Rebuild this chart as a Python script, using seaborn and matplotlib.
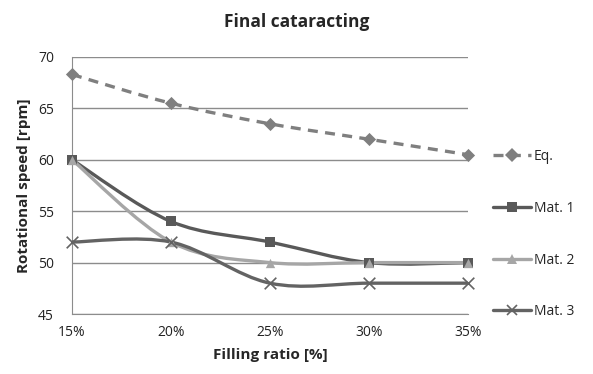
import matplotlib
matplotlib.use("Agg")
import matplotlib.pyplot as plt
import seaborn as sns
import pandas as pd
import numpy as np
from matplotlib.path import Path
from matplotlib.patches import PathPatch
from matplotlib.lines import Line2D

fill_ratio = ["15%", "20%", "25%", "30%", "35%"]
eq = [68.3, 65.5, 63.5, 62.0, 60.5]
mat1 = [60, 54, 52, 50, 50]
mat2 = [60, 52, 50, 50, 50]
mat3 = [52, 52, 48, 48, 48]

series = {"Eq.": eq, "Mat. 1": mat1, "Mat. 2": mat2, "Mat. 3": mat3}
colors = {"Eq.": "#7f7f7f", "Mat. 1": "#595959", "Mat. 2": "#a6a6a6", "Mat. 3": "#636363"}
markers = {"Eq.": "D", "Mat. 1": "s", "Mat. 2": "^", "Mat. 3": "x"}
styles = {"Eq.": (0, (3, 2.2)), "Mat. 1": "-", "Mat. 2": "-", "Mat. 3": "-"}

rows = []
for name, vals in series.items():
    for i, v in enumerate(vals):
        rows.append({"pos": i, "ratio": fill_ratio[i], "speed": v, "series": name})
df = pd.DataFrame(rows)

sns.set_style("white")
plt.rcParams["font.family"] = ["Open Sans", "DejaVu Sans"]

fig = plt.figure(figsize=(5.93, 3.74), dpi=100)
ax = fig.add_axes([0.1214, 0.1604, 0.6678, 0.6872])


def smooth_path(xs, ys):
    # excel-like smoothed line: catmull-rom converted to bezier segments
    pts = np.column_stack([xs, ys]).astype(float)
    ext = np.vstack([pts[0], pts, pts[-1]])
    verts = [tuple(pts[0])]
    codes = [Path.MOVETO]
    for i in range(1, len(ext) - 2):
        p0, p1, p2, p3 = ext[i - 1], ext[i], ext[i + 1], ext[i + 2]
        c1 = p1 + (p2 - p0) / 6.0
        c2 = p2 - (p3 - p1) / 6.0
        verts += [tuple(c1), tuple(c2), tuple(p2)]
        codes += [Path.CURVE4] * 3
    return Path(verts, codes)


for name, vals in series.items():
    path = smooth_path(range(len(vals)), vals)
    ax.add_patch(PathPatch(path, facecolor="none", edgecolor=colors[name],
                           lw=2.4, linestyle=styles[name], zorder=3,
                           capstyle="butt"))

for name in series:
    sub = df[df["series"] == name]
    sns.scatterplot(data=sub, x="pos", y="speed", ax=ax, color=colors[name],
                    marker=markers[name], s=45 if name != "Mat. 3" else 70,
                    linewidth=1.2 if name == "Mat. 3" else 0,
                    edgecolor=colors[name], zorder=4, legend=False, clip_on=False)

ax.set_xlim(0, 4)
ax.set_ylim(45, 70)
ax.set_yticks([45, 50, 55, 60, 65, 70])
ax.set_xticks(range(5))
ax.set_xticklabels(fill_ratio)
ax.yaxis.grid(True, color="#8c8c8c", lw=1)
ax.xaxis.grid(False)
for s in ["top", "right"]:
    ax.spines[s].set_visible(False)
ax.spines["left"].set_color("#8c8c8c")
ax.spines["bottom"].set_color("#8c8c8c")
ax.tick_params(axis="both", length=0, labelsize=10, colors="#222222")
ax.tick_params(axis="x", pad=8)
ax.tick_params(axis="y", pad=13)

ax.set_xlabel("Filling ratio [%]", fontsize=11, fontweight="bold", labelpad=6)
ax.set_ylabel("Rotational speed [rpm]", fontsize=11, fontweight="bold", labelpad=5)
fig.text(0.5, 0.94, "Final cataracting", ha="center", va="center",
         fontsize=12.5, fontweight="bold")

handles = [Line2D([], [], color=colors[n], lw=2.4, linestyle=styles[n],
                  marker=markers[n], markersize=7, markeredgewidth=1.2 if n == "Mat. 3" else 0)
           for n in series]
fig.legend(handles, list(series.keys()), loc="center left", bbox_to_anchor=(0.832, 0.374),
           frameon=False, fontsize=10, handlelength=2.7, handletextpad=0.2,
           labelspacing=2.65, borderaxespad=0, borderpad=0)

fig.savefig("out.png", dpi=100)
